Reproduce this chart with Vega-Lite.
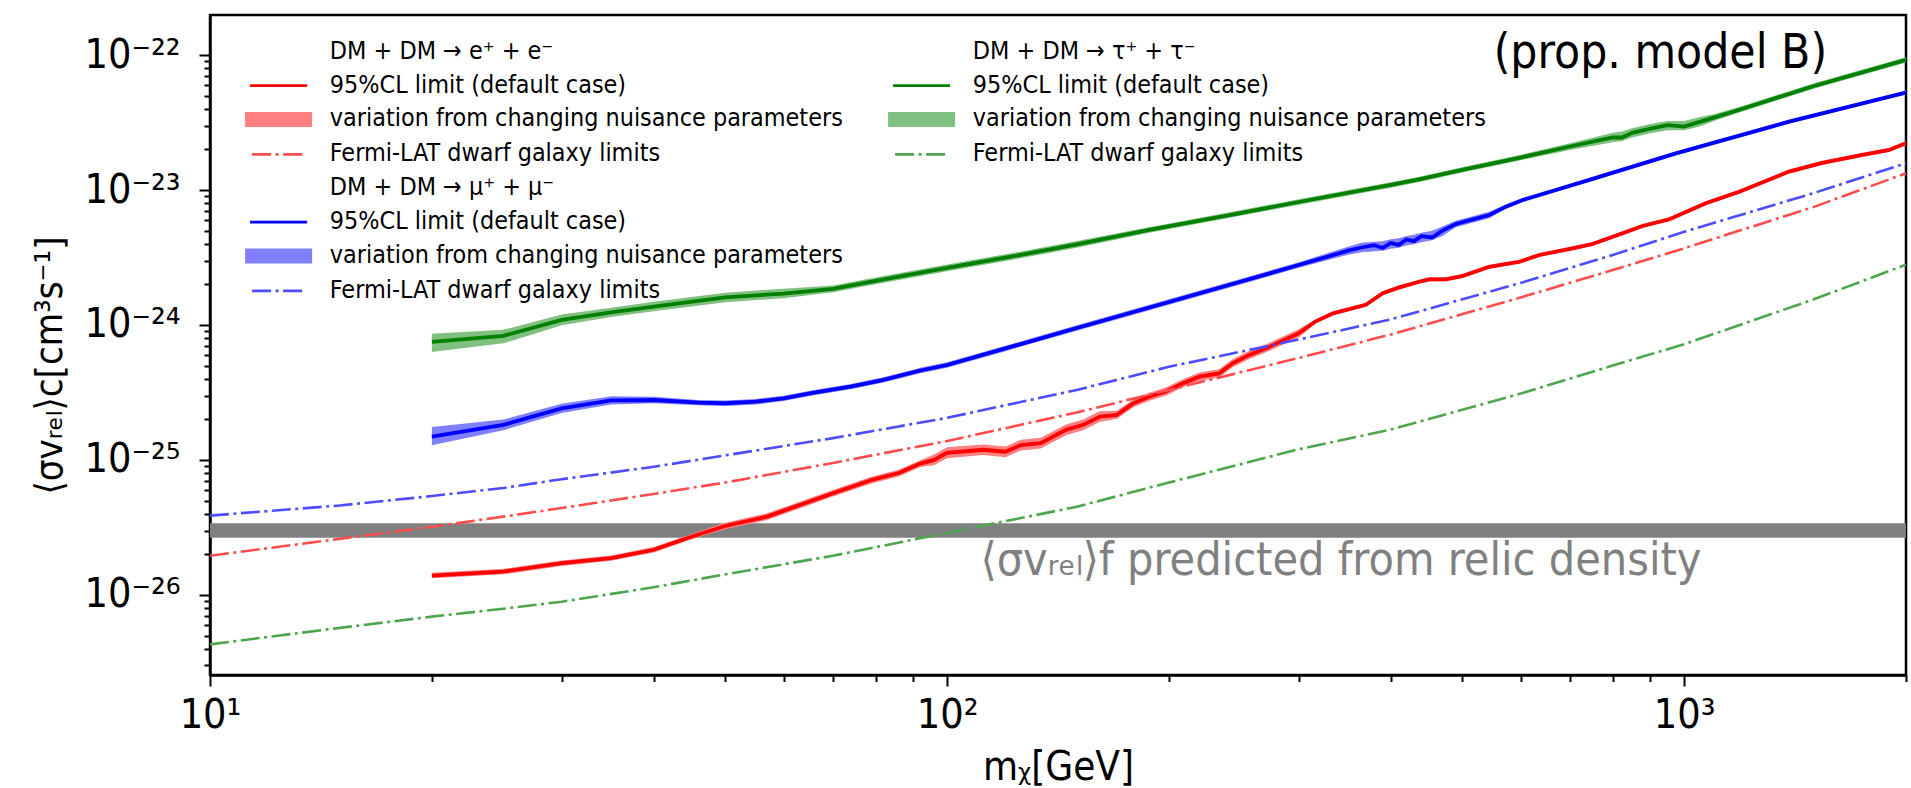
{
  "$schema": "https://vega.github.io/schema/vega-lite/v6.json",
  "width": 1696,
  "height": 660,
  "autosize": {"type": "none"},
  "padding": {"left": 210, "top": 15, "right": 5, "bottom": 113},
  "background": "white",
  "config": {
    "font": "DejaVu Sans Condensed",
    "view": {"stroke": "black", "strokeWidth": 2.5},
    "axis": {"grid": false, "domainColor": "black", "domainWidth": 2.5, "tickColor": "black", "tickWidth": 2, "labelColor": "black", "titleColor": "black", "labelFont": "DejaVu Sans Condensed", "titleFont": "DejaVu Sans Condensed", "titleFontWeight": "normal", "labelFlush": false, "labelOverlap": false, "labelBound": false}
  },
  "datasets": {
    "relic": [{"m": 10, "m2": 2000, "v": 3.4e-26, "v2": 2.65e-26}],
    "notes": [{"label": "⟨σvᵣₑₗ⟩f predicted from relic density", "m": 111, "v": 1.41e-26}],
    "tag": [{"label": "(prop. model B)", "m": 1563, "v": 8.0e-23}],
    "legend_keys": [{"key": "e_h"}, {"key": "e_l"}, {"key": "e_b"}, {"key": "e_f"}, {"key": "m_h"}, {"key": "m_l"}, {"key": "m_b"}, {"key": "m_f"}, {"key": "t_h"}, {"key": "t_l"}, {"key": "t_b"}, {"key": "t_f"}, {"key": "x1"}, {"key": "x2"}, {"key": "x3"}, {"key": "x4"}],
    "lines": [
      {"key": "e_l", "m": 20, "v": 1.39e-26}, {"key": "e_l", "m": 25, "v": 1.49e-26}, {"key": "e_l", "m": 30, "v": 1.72e-26}, {"key": "e_l", "m": 35, "v": 1.87e-26}, {"key": "e_l", "m": 40, "v": 2.16e-26}, {"key": "e_l", "m": 45, "v": 2.7e-26}, {"key": "e_l", "m": 50, "v": 3.24e-26}, {"key": "e_l", "m": 57, "v": 3.8e-26}, {"key": "e_l", "m": 70, "v": 5.67e-26}, {"key": "e_l", "m": 79, "v": 7.1e-26}, {"key": "e_l", "m": 86, "v": 8.0e-26}, {"key": "e_l", "m": 92, "v": 9.4e-26}, {"key": "e_l", "m": 96, "v": 1.0e-25}, {"key": "e_l", "m": 100, "v": 1.13e-25}, {"key": "e_l", "m": 112, "v": 1.19e-25}, {"key": "e_l", "m": 120, "v": 1.15e-25}, {"key": "e_l", "m": 126, "v": 1.29e-25}, {"key": "e_l", "m": 134, "v": 1.33e-25}, {"key": "e_l", "m": 138, "v": 1.45e-25}, {"key": "e_l", "m": 145, "v": 1.67e-25}, {"key": "e_l", "m": 153, "v": 1.82e-25}, {"key": "e_l", "m": 161, "v": 2.09e-25}, {"key": "e_l", "m": 170, "v": 2.16e-25}, {"key": "e_l", "m": 179, "v": 2.63e-25}, {"key": "e_l", "m": 188, "v": 2.94e-25}, {"key": "e_l", "m": 198, "v": 3.21e-25}, {"key": "e_l", "m": 209, "v": 3.7e-25}, {"key": "e_l", "m": 220, "v": 4.14e-25}, {"key": "e_l", "m": 234, "v": 4.38e-25}, {"key": "e_l", "m": 244, "v": 5.2e-25}, {"key": "e_l", "m": 257, "v": 6.0e-25}, {"key": "e_l", "m": 271, "v": 6.72e-25}, {"key": "e_l", "m": 300, "v": 8.67e-25}, {"key": "e_l", "m": 316, "v": 1.06e-24}, {"key": "e_l", "m": 334, "v": 1.22e-24}, {"key": "e_l", "m": 370, "v": 1.41e-24}, {"key": "e_l", "m": 390, "v": 1.72e-24}, {"key": "e_l", "m": 411, "v": 1.9e-24}, {"key": "e_l", "m": 437, "v": 2.09e-24}, {"key": "e_l", "m": 451, "v": 2.18e-24}, {"key": "e_l", "m": 475, "v": 2.18e-24}, {"key": "e_l", "m": 501, "v": 2.31e-24}, {"key": "e_l", "m": 544, "v": 2.7e-24}, {"key": "e_l", "m": 598, "v": 2.94e-24}, {"key": "e_l", "m": 636, "v": 3.3e-24}, {"key": "e_l", "m": 706, "v": 3.7e-24}, {"key": "e_l", "m": 751, "v": 3.98e-24}, {"key": "e_l", "m": 825, "v": 4.78e-24}, {"key": "e_l", "m": 878, "v": 5.41e-24}, {"key": "e_l", "m": 955, "v": 6.07e-24}, {"key": "e_l", "m": 1070, "v": 7.97e-24}, {"key": "e_l", "m": 1188, "v": 9.72e-24}, {"key": "e_l", "m": 1388, "v": 1.37e-23}, {"key": "e_l", "m": 1540, "v": 1.59e-23}, {"key": "e_l", "m": 1745, "v": 1.82e-23}, {"key": "e_l", "m": 1897, "v": 1.98e-23}, {"key": "e_l", "m": 2000, "v": 2.22e-23},
      {"key": "m_l", "m": 20, "v": 1.49e-25}, {"key": "m_l", "m": 25, "v": 1.82e-25}, {"key": "m_l", "m": 30, "v": 2.41e-25}, {"key": "m_l", "m": 35, "v": 2.76e-25}, {"key": "m_l", "m": 40, "v": 2.78e-25}, {"key": "m_l", "m": 46, "v": 2.66e-25}, {"key": "m_l", "m": 50, "v": 2.63e-25}, {"key": "m_l", "m": 55, "v": 2.7e-25}, {"key": "m_l", "m": 60, "v": 2.86e-25}, {"key": "m_l", "m": 66, "v": 3.15e-25}, {"key": "m_l", "m": 74, "v": 3.49e-25}, {"key": "m_l", "m": 82, "v": 3.92e-25}, {"key": "m_l", "m": 92, "v": 4.6e-25}, {"key": "m_l", "m": 100, "v": 5.05e-25}, {"key": "m_l", "m": 120, "v": 6.7e-25}, {"key": "m_l", "m": 150, "v": 9.5e-25}, {"key": "m_l", "m": 200, "v": 1.48e-24}, {"key": "m_l", "m": 250, "v": 2.09e-24}, {"key": "m_l", "m": 300, "v": 2.78e-24}, {"key": "m_l", "m": 350, "v": 3.55e-24}, {"key": "m_l", "m": 365, "v": 3.75e-24}, {"key": "m_l", "m": 380, "v": 3.9e-24}, {"key": "m_l", "m": 390, "v": 3.72e-24}, {"key": "m_l", "m": 400, "v": 4.05e-24}, {"key": "m_l", "m": 410, "v": 3.92e-24}, {"key": "m_l", "m": 420, "v": 4.3e-24}, {"key": "m_l", "m": 430, "v": 4.18e-24}, {"key": "m_l", "m": 440, "v": 4.55e-24}, {"key": "m_l", "m": 455, "v": 4.45e-24}, {"key": "m_l", "m": 470, "v": 5.0e-24}, {"key": "m_l", "m": 490, "v": 5.6e-24}, {"key": "m_l", "m": 544, "v": 6.53e-24}, {"key": "m_l", "m": 573, "v": 7.53e-24}, {"key": "m_l", "m": 604, "v": 8.43e-24}, {"key": "m_l", "m": 670, "v": 1.0e-23}, {"key": "m_l", "m": 744, "v": 1.19e-23}, {"key": "m_l", "m": 975, "v": 1.87e-23}, {"key": "m_l", "m": 1388, "v": 3.21e-23}, {"key": "m_l", "m": 2000, "v": 5.28e-23},
      {"key": "t_l", "m": 20, "v": 7.5e-25}, {"key": "t_l", "m": 25, "v": 8.3e-25}, {"key": "t_l", "m": 30, "v": 1.09e-24}, {"key": "t_l", "m": 35, "v": 1.24e-24}, {"key": "t_l", "m": 40, "v": 1.37e-24}, {"key": "t_l", "m": 50, "v": 1.6e-24}, {"key": "t_l", "m": 60, "v": 1.71e-24}, {"key": "t_l", "m": 70, "v": 1.85e-24}, {"key": "t_l", "m": 80, "v": 2.12e-24}, {"key": "t_l", "m": 86, "v": 2.28e-24}, {"key": "t_l", "m": 100, "v": 2.65e-24}, {"key": "t_l", "m": 120, "v": 3.15e-24}, {"key": "t_l", "m": 150, "v": 3.95e-24}, {"key": "t_l", "m": 188, "v": 5.06e-24}, {"key": "t_l", "m": 250, "v": 6.75e-24}, {"key": "t_l", "m": 300, "v": 8.15e-24}, {"key": "t_l", "m": 400, "v": 1.09e-23}, {"key": "t_l", "m": 437, "v": 1.2e-23}, {"key": "t_l", "m": 500, "v": 1.41e-23}, {"key": "t_l", "m": 600, "v": 1.74e-23}, {"key": "t_l", "m": 700, "v": 2.1e-23}, {"key": "t_l", "m": 800, "v": 2.45e-23}, {"key": "t_l", "m": 824, "v": 2.45e-23}, {"key": "t_l", "m": 850, "v": 2.65e-23}, {"key": "t_l", "m": 900, "v": 2.85e-23}, {"key": "t_l", "m": 950, "v": 3.02e-23}, {"key": "t_l", "m": 1000, "v": 2.95e-23}, {"key": "t_l", "m": 1050, "v": 3.2e-23}, {"key": "t_l", "m": 1100, "v": 3.45e-23}, {"key": "t_l", "m": 1200, "v": 4.0e-23}, {"key": "t_l", "m": 1500, "v": 5.9e-23}, {"key": "t_l", "m": 2000, "v": 9.2e-23}
    ],
    "bands": [
      {"key": "e_b", "m": 20, "v": 1.46e-26, "v2": 1.33e-26}, {"key": "e_b", "m": 25, "v": 1.56e-26, "v2": 1.42e-26}, {"key": "e_b", "m": 30, "v": 1.80e-26, "v2": 1.64e-26}, {"key": "e_b", "m": 35, "v": 1.96e-26, "v2": 1.79e-26}, {"key": "e_b", "m": 40, "v": 2.26e-26, "v2": 2.06e-26}, {"key": "e_b", "m": 45, "v": 2.83e-26, "v2": 2.58e-26}, {"key": "e_b", "m": 50, "v": 3.43e-26, "v2": 3.06e-26}, {"key": "e_b", "m": 57, "v": 4.02e-26, "v2": 3.59e-26}, {"key": "e_b", "m": 70, "v": 6.0e-26, "v2": 5.35e-26}, {"key": "e_b", "m": 79, "v": 7.52e-26, "v2": 6.7e-26}, {"key": "e_b", "m": 86, "v": 8.47e-26, "v2": 7.55e-26}, {"key": "e_b", "m": 92, "v": 9.95e-26, "v2": 8.88e-26}, {"key": "e_b", "m": 96, "v": 1.096e-25, "v2": 9.12e-26}, {"key": "e_b", "m": 100, "v": 1.24e-25, "v2": 1.03e-25}, {"key": "e_b", "m": 112, "v": 1.304e-25, "v2": 1.086e-25}, {"key": "e_b", "m": 120, "v": 1.26e-25, "v2": 1.049e-25}, {"key": "e_b", "m": 126, "v": 1.414e-25, "v2": 1.177e-25}, {"key": "e_b", "m": 134, "v": 1.458e-25, "v2": 1.213e-25}, {"key": "e_b", "m": 138, "v": 1.589e-25, "v2": 1.323e-25}, {"key": "e_b", "m": 145, "v": 1.83e-25, "v2": 1.524e-25}, {"key": "e_b", "m": 153, "v": 1.995e-25, "v2": 1.66e-25}, {"key": "e_b", "m": 161, "v": 2.29e-25, "v2": 1.907e-25}, {"key": "e_b", "m": 170, "v": 2.316e-25, "v2": 2.015e-25}, {"key": "e_b", "m": 179, "v": 2.82e-25, "v2": 2.453e-25}, {"key": "e_b", "m": 188, "v": 3.152e-25, "v2": 2.742e-25}, {"key": "e_b", "m": 198, "v": 3.441e-25, "v2": 2.994e-25}, {"key": "e_b", "m": 209, "v": 3.966e-25, "v2": 3.451e-25}, {"key": "e_b", "m": 220, "v": 4.438e-25, "v2": 3.862e-25}, {"key": "e_b", "m": 234, "v": 4.695e-25, "v2": 4.086e-25}, {"key": "e_b", "m": 244, "v": 5.574e-25, "v2": 4.851e-25}, {"key": "e_b", "m": 257, "v": 6.432e-25, "v2": 5.597e-25}, {"key": "e_b", "m": 271, "v": 7.204e-25, "v2": 6.269e-25}, {"key": "e_b", "m": 300, "v": 9.294e-25, "v2": 8.088e-25}, {"key": "e_b", "m": 316, "v": 1.097e-24, "v2": 1.024e-24}, {"key": "e_b", "m": 334, "v": 1.263e-24, "v2": 1.179e-24}, {"key": "e_b", "m": 370, "v": 1.459e-24, "v2": 1.362e-24}, {"key": "e_b", "m": 390, "v": 1.78e-24, "v2": 1.662e-24}, {"key": "e_b", "m": 411, "v": 1.967e-24, "v2": 1.836e-24}, {"key": "e_b", "m": 437, "v": 2.163e-24, "v2": 2.019e-24}, {"key": "e_b", "m": 451, "v": 2.256e-24, "v2": 2.106e-24}, {"key": "e_b", "m": 475, "v": 2.256e-24, "v2": 2.106e-24}, {"key": "e_b", "m": 501, "v": 2.391e-24, "v2": 2.232e-24}, {"key": "e_b", "m": 544, "v": 2.795e-24, "v2": 2.609e-24}, {"key": "e_b", "m": 598, "v": 3.043e-24, "v2": 2.841e-24}, {"key": "e_b", "m": 636, "v": 3.416e-24, "v2": 3.188e-24}, {"key": "e_b", "m": 706, "v": 3.83e-24, "v2": 3.575e-24}, {"key": "e_b", "m": 751, "v": 4.119e-24, "v2": 3.845e-24}, {"key": "e_b", "m": 825, "v": 4.947e-24, "v2": 4.618e-24}, {"key": "e_b", "m": 878, "v": 5.599e-24, "v2": 5.227e-24}, {"key": "e_b", "m": 955, "v": 6.282e-24, "v2": 5.865e-24}, {"key": "e_b", "m": 1070, "v": 8.249e-24, "v2": 7.7e-24}, {"key": "e_b", "m": 1188, "v": 1.006e-23, "v2": 9.391e-24}, {"key": "e_b", "m": 1388, "v": 1.418e-23, "v2": 1.324e-23}, {"key": "e_b", "m": 1540, "v": 1.646e-23, "v2": 1.536e-23}, {"key": "e_b", "m": 1745, "v": 1.884e-23, "v2": 1.758e-23}, {"key": "e_b", "m": 1897, "v": 2.049e-23, "v2": 1.913e-23}, {"key": "e_b", "m": 2000, "v": 2.298e-23, "v2": 2.145e-23},
      {"key": "m_b", "m": 20, "v": 1.751e-25, "v2": 1.283e-25}, {"key": "m_b", "m": 25, "v": 1.995e-25, "v2": 1.661e-25}, {"key": "m_b", "m": 30, "v": 2.612e-25, "v2": 2.223e-25}, {"key": "m_b", "m": 35, "v": 2.959e-25, "v2": 2.575e-25}, {"key": "m_b", "m": 40, "v": 2.944e-25, "v2": 2.625e-25}, {"key": "m_b", "m": 46, "v": 2.785e-25, "v2": 2.541e-25}, {"key": "m_b", "m": 50, "v": 2.754e-25, "v2": 2.512e-25}, {"key": "m_b", "m": 55, "v": 2.827e-25, "v2": 2.579e-25}, {"key": "m_b", "m": 60, "v": 2.994e-25, "v2": 2.732e-25}, {"key": "m_b", "m": 66, "v": 3.298e-25, "v2": 3.009e-25}, {"key": "m_b", "m": 74, "v": 3.654e-25, "v2": 3.333e-25}, {"key": "m_b", "m": 82, "v": 4.104e-25, "v2": 3.744e-25}, {"key": "m_b", "m": 92, "v": 4.816e-25, "v2": 4.394e-25}, {"key": "m_b", "m": 100, "v": 5.287e-25, "v2": 4.823e-25}, {"key": "m_b", "m": 120, "v": 7.015e-25, "v2": 6.399e-25}, {"key": "m_b", "m": 150, "v": 9.946e-25, "v2": 9.074e-25}, {"key": "m_b", "m": 200, "v": 1.55e-24, "v2": 1.414e-24}, {"key": "m_b", "m": 250, "v": 2.188e-24, "v2": 1.996e-24}, {"key": "m_b", "m": 300, "v": 2.911e-24, "v2": 2.655e-24}, {"key": "m_b", "m": 350, "v": 3.806e-24, "v2": 3.312e-24}, {"key": "m_b", "m": 365, "v": 4.065e-24, "v2": 3.459e-24}, {"key": "m_b", "m": 380, "v": 4.141e-24, "v2": 3.524e-24}, {"key": "m_b", "m": 390, "v": 4.173e-24, "v2": 3.552e-24}, {"key": "m_b", "m": 400, "v": 4.314e-24, "v2": 3.672e-24}, {"key": "m_b", "m": 410, "v": 4.39e-24, "v2": 3.736e-24}, {"key": "m_b", "m": 420, "v": 4.553e-24, "v2": 3.875e-24}, {"key": "m_b", "m": 430, "v": 4.661e-24, "v2": 3.967e-24}, {"key": "m_b", "m": 440, "v": 4.824e-24, "v2": 4.105e-24}, {"key": "m_b", "m": 455, "v": 4.986e-24, "v2": 4.244e-24}, {"key": "m_b", "m": 470, "v": 5.366e-24, "v2": 4.566e-24}, {"key": "m_b", "m": 490, "v": 5.93e-24, "v2": 5.288e-24}, {"key": "m_b", "m": 544, "v": 6.915e-24, "v2": 6.166e-24}, {"key": "m_b", "m": 573, "v": 7.794e-24, "v2": 7.275e-24}, {"key": "m_b", "m": 604, "v": 8.725e-24, "v2": 8.145e-24}, {"key": "m_b", "m": 670, "v": 1.035e-23, "v2": 9.66e-24}, {"key": "m_b", "m": 744, "v": 1.232e-23, "v2": 1.15e-23}, {"key": "m_b", "m": 975, "v": 1.935e-23, "v2": 1.807e-23}, {"key": "m_b", "m": 1388, "v": 3.322e-23, "v2": 3.101e-23}, {"key": "m_b", "m": 2000, "v": 5.45e-23, "v2": 5.1e-23},
      {"key": "t_b", "m": 20, "v": 8.61e-25, "v2": 6.31e-25}, {"key": "t_b", "m": 25, "v": 9.2e-25, "v2": 7.31e-25}, {"key": "t_b", "m": 30, "v": 1.195e-24, "v2": 9.95e-25}, {"key": "t_b", "m": 35, "v": 1.344e-24, "v2": 1.144e-24}, {"key": "t_b", "m": 40, "v": 1.485e-24, "v2": 1.264e-24}, {"key": "t_b", "m": 50, "v": 1.734e-24, "v2": 1.476e-24}, {"key": "t_b", "m": 60, "v": 1.854e-24, "v2": 1.578e-24}, {"key": "t_b", "m": 70, "v": 1.959e-24, "v2": 1.747e-24}, {"key": "t_b", "m": 80, "v": 2.245e-24, "v2": 2.002e-24}, {"key": "t_b", "m": 86, "v": 2.415e-24, "v2": 2.153e-24}, {"key": "t_b", "m": 100, "v": 2.806e-24, "v2": 2.502e-24}, {"key": "t_b", "m": 120, "v": 3.336e-24, "v2": 2.975e-24}, {"key": "t_b", "m": 150, "v": 4.183e-24, "v2": 3.73e-24}, {"key": "t_b", "m": 188, "v": 5.298e-24, "v2": 4.833e-24}, {"key": "t_b", "m": 250, "v": 7.067e-24, "v2": 6.447e-24}, {"key": "t_b", "m": 300, "v": 8.533e-24, "v2": 7.784e-24}, {"key": "t_b", "m": 400, "v": 1.141e-23, "v2": 1.041e-23}, {"key": "t_b", "m": 437, "v": 1.256e-23, "v2": 1.146e-23}, {"key": "t_b", "m": 500, "v": 1.476e-23, "v2": 1.347e-23}, {"key": "t_b", "m": 600, "v": 1.822e-23, "v2": 1.662e-23}, {"key": "t_b", "m": 700, "v": 2.224e-23, "v2": 1.983e-23}, {"key": "t_b", "m": 800, "v": 2.656e-23, "v2": 2.26e-23}, {"key": "t_b", "m": 824, "v": 2.71e-23, "v2": 2.306e-23}, {"key": "t_b", "m": 850, "v": 2.873e-23, "v2": 2.445e-23}, {"key": "t_b", "m": 900, "v": 3.089e-23, "v2": 2.629e-23}, {"key": "t_b", "m": 950, "v": 3.252e-23, "v2": 2.768e-23}, {"key": "t_b", "m": 1000, "v": 3.252e-23, "v2": 2.768e-23}, {"key": "t_b", "m": 1050, "v": 3.469e-23, "v2": 2.952e-23}, {"key": "t_b", "m": 1100, "v": 3.654e-23, "v2": 3.258e-23}, {"key": "t_b", "m": 1200, "v": 4.188e-23, "v2": 3.821e-23}, {"key": "t_b", "m": 1500, "v": 6.177e-23, "v2": 5.636e-23}, {"key": "t_b", "m": 2000, "v": 9.632e-23, "v2": 8.787e-23}
    ],
    "fermi": [
      {"key": "e_f", "m": 10, "v": 1.95e-26}, {"key": "e_f", "m": 15, "v": 2.6e-26}, {"key": "e_f", "m": 20, "v": 3.2e-26}, {"key": "e_f", "m": 25, "v": 3.8e-26}, {"key": "e_f", "m": 30, "v": 4.4e-26}, {"key": "e_f", "m": 40, "v": 5.6e-26}, {"key": "e_f", "m": 50, "v": 6.8e-26}, {"key": "e_f", "m": 70, "v": 9.5e-26}, {"key": "e_f", "m": 100, "v": 1.38e-25}, {"key": "e_f", "m": 150, "v": 2.25e-25}, {"key": "e_f", "m": 200, "v": 3.3e-25}, {"key": "e_f", "m": 300, "v": 5.7e-25}, {"key": "e_f", "m": 400, "v": 8.5e-25}, {"key": "e_f", "m": 600, "v": 1.6e-24}, {"key": "e_f", "m": 800, "v": 2.55e-24}, {"key": "e_f", "m": 1000, "v": 3.7e-24}, {"key": "e_f", "m": 1500, "v": 7.5e-24}, {"key": "e_f", "m": 2000, "v": 1.33e-23},
      {"key": "m_f", "m": 10, "v": 3.87e-26}, {"key": "m_f", "m": 15, "v": 4.6e-26}, {"key": "m_f", "m": 20, "v": 5.4e-26}, {"key": "m_f", "m": 25, "v": 6.2e-26}, {"key": "m_f", "m": 30, "v": 7.2e-26}, {"key": "m_f", "m": 40, "v": 8.9e-26}, {"key": "m_f", "m": 50, "v": 1.08e-25}, {"key": "m_f", "m": 70, "v": 1.45e-25}, {"key": "m_f", "m": 100, "v": 2.05e-25}, {"key": "m_f", "m": 150, "v": 3.3e-25}, {"key": "m_f", "m": 200, "v": 4.9e-25}, {"key": "m_f", "m": 300, "v": 7.8e-25}, {"key": "m_f", "m": 400, "v": 1.1e-24}, {"key": "m_f", "m": 600, "v": 2.05e-24}, {"key": "m_f", "m": 800, "v": 3.3e-24}, {"key": "m_f", "m": 1000, "v": 4.9e-24}, {"key": "m_f", "m": 1500, "v": 9.5e-24}, {"key": "m_f", "m": 2000, "v": 1.58e-23},
      {"key": "t_f", "m": 10, "v": 4.3e-27}, {"key": "t_f", "m": 15, "v": 5.7e-27}, {"key": "t_f", "m": 20, "v": 6.9e-27}, {"key": "t_f", "m": 25, "v": 7.9e-27}, {"key": "t_f", "m": 30, "v": 8.9e-27}, {"key": "t_f", "m": 40, "v": 1.14e-26}, {"key": "t_f", "m": 50, "v": 1.42e-26}, {"key": "t_f", "m": 70, "v": 1.95e-26}, {"key": "t_f", "m": 100, "v": 2.88e-26}, {"key": "t_f", "m": 150, "v": 4.5e-26}, {"key": "t_f", "m": 200, "v": 6.8e-26}, {"key": "t_f", "m": 300, "v": 1.2e-25}, {"key": "t_f", "m": 400, "v": 1.68e-25}, {"key": "t_f", "m": 600, "v": 3.1e-25}, {"key": "t_f", "m": 800, "v": 5.0e-25}, {"key": "t_f", "m": 1000, "v": 7.2e-25}, {"key": "t_f", "m": 1500, "v": 1.55e-24}, {"key": "t_f", "m": 2000, "v": 2.8e-24}
    ]
  },
  "encoding": {
    "x": {
      "field": "m", "type": "quantitative",
      "scale": {"type": "log", "domain": [10, 2000], "nice": false},
      "axis": {
        "values": [10, 20, 30, 40, 50, 60, 70, 80, 90, 100, 200, 300, 400, 500, 600, 700, 800, 900, 1000, 2000],
        "labelExpr": "datum.value == 10 ? '10¹' : datum.value == 100 ? '10²' : datum.value == 1000 ? '10³' : ''",
        "tickSize": {"condition": {"test": "datum.value == 10 || datum.value == 100 || datum.value == 1000", "value": 11}, "value": 6.5},
        "labelFontSize": 41, "labelPadding": 9,
        "title": "mᵪ[GeV]", "titleFontSize": 40, "titlePadding": 12
      }
    },
    "y": {
      "field": "v", "type": "quantitative",
      "scale": {"type": "log", "domain": [2.55e-27, 1.98e-22], "nice": false},
      "axis": {
        "values": [3e-27, 4e-27, 5e-27, 6e-27, 7e-27, 8e-27, 9e-27, 1e-26, 2e-26, 3e-26, 4e-26, 5e-26, 6e-26, 7e-26, 8e-26, 9e-26, 1e-25, 2e-25, 3e-25, 4e-25, 5e-25, 6e-25, 7e-25, 8e-25, 9e-25, 1e-24, 2e-24, 3e-24, 4e-24, 5e-24, 6e-24, 7e-24, 8e-24, 9e-24, 1e-23, 2e-23, 3e-23, 4e-23, 5e-23, 6e-23, 7e-23, 8e-23, 9e-23, 1e-22],
        "labelExpr": "datum.value == 1e-22 ? '10⁻²²' : datum.value == 1e-23 ? '10⁻²³' : datum.value == 1e-24 ? '10⁻²⁴' : datum.value == 1e-25 ? '10⁻²⁵' : datum.value == 1e-26 ? '10⁻²⁶' : ''",
        "tickSize": {"condition": {"test": "datum.value == 1e-22 || datum.value == 1e-23 || datum.value == 1e-24 || datum.value == 1e-25 || datum.value == 1e-26", "value": 11}, "value": 6},
        "labelFontSize": 41, "labelPadding": 19,
        "title": "⟨σvᵣₑₗ⟩c[cm³s⁻¹]", "titleFontSize": 38, "titlePadding": 15, "titleY": 350
      }
    }
  },
  "layer": [
    {
      "data": {"name": "relic"},
      "mark": {"type": "rect", "color": "#808080"},
      "encoding": {"x2": {"field": "m2"}, "y2": {"field": "v2"}}
    },
    {
      "data": {"name": "bands"},
      "mark": {"type": "area", "opacity": 1, "clip": true},
      "encoding": {
        "y2": {"field": "v2"},
        "color": {
          "field": "key", "type": "nominal", "legend": null,
          "scale": {
            "domain": ["e_l", "e_b", "e_f", "m_l", "m_b", "m_f", "t_l", "t_b", "t_f"],
            "range": ["#ff0000", "#ff8080", "#ff4d4d", "#0000ff", "#8080ff", "#4d4dff", "#008000", "#80c080", "#4da64d"]
          }
        }
      }
    },
    {
      "data": {"name": "lines"},
      "mark": {"type": "line", "strokeWidth": 3.8, "clip": true},
      "encoding": {"color": {"field": "key", "type": "nominal", "legend": null}}
    },
    {
      "data": {"name": "fermi"},
      "mark": {"type": "line", "strokeWidth": 2.6, "strokeDash": [19, 4.5, 3, 4.5], "clip": true},
      "encoding": {"color": {"field": "key", "type": "nominal", "legend": null}}
    },
    {
      "data": {"name": "legend_keys"},
      "mark": {"type": "point", "opacity": 0},
      "encoding": {
        "shape": {
          "field": "key", "type": "nominal",
          "scale": {
            "domain": ["e_h", "e_l", "e_b", "e_f", "m_h", "m_l", "m_b", "m_f", "t_h", "t_l", "t_b", "t_f", "x1", "x2", "x3", "x4"],
            "range": ["M0,0", "M-5.7,0H5.7", "M-6.7,-1.5H6.7V1.5H-6.7Z", "M-5.3,0H4.7", "M0,0", "M-5.7,0H5.7", "M-6.7,-1.5H6.7V1.5H-6.7Z", "M-5.3,0H4.7", "M0,0", "M-5.7,0H5.7", "M-6.7,-1.5H6.7V1.5H-6.7Z", "M-5.3,0H4.7", "M0,0", "M0,0", "M0,0", "M0,0"]
          },
          "legend": {
            "orient": "none", "legendX": 38, "legendY": 24.2, "columns": 2, "columnPadding": 39, "rowPadding": 7.9,
            "title": null, "padding": 0, "symbolSize": 100, "symbolStrokeWidth": 2.7, "symbolOffset": 18.15, "labelOffset": 38.8, "symbolOpacity": 1,
            "labelFontSize": 24.9, "labelFont": "DejaVu Sans Condensed", "labelColor": "black", "labelLimit": 1000,
            "labelExpr": "datum.value == 'e_h' ? 'DM + DM → e⁺ + e⁻' : datum.value == 'm_h' ? 'DM + DM → μ⁺ + μ⁻' : datum.value == 't_h' ? 'DM + DM → τ⁺ + τ⁻' : indexof(datum.value, '_l') > 0 ? '95%CL limit (default case)' : indexof(datum.value, '_b') > 0 ? 'variation from changing nuisance parameters' : indexof(datum.value, '_f') > 0 ? 'Fermi-LAT dwarf galaxy limits' : ''"
          }
        },
        "fill": {
          "field": "key", "type": "nominal",
          "scale": {
            "domain": ["e_h", "e_l", "e_b", "e_f", "m_h", "m_l", "m_b", "m_f", "t_h", "t_l", "t_b", "t_f", "x1", "x2", "x3", "x4"],
            "range": ["transparent", "transparent", "#ff8080", "transparent", "transparent", "transparent", "#8080ff", "transparent", "transparent", "transparent", "#80c080", "transparent", "transparent", "transparent", "transparent", "transparent"]
          }
        },
        "stroke": {
          "field": "key", "type": "nominal",
          "scale": {
            "domain": ["e_h", "e_l", "e_b", "e_f", "m_h", "m_l", "m_b", "m_f", "t_h", "t_l", "t_b", "t_f", "x1", "x2", "x3", "x4"],
            "range": ["transparent", "#ff0000", "transparent", "#ff4d4d", "transparent", "#0000ff", "transparent", "#4d4dff", "transparent", "#008000", "transparent", "#4da64d", "transparent", "transparent", "transparent", "transparent"]
          }
        },
        "strokeDash": {
          "field": "key", "type": "nominal",
          "scale": {
            "domain": ["e_h", "e_l", "e_b", "e_f", "m_h", "m_l", "m_b", "m_f", "t_h", "t_l", "t_b", "t_f", "x1", "x2", "x3", "x4"],
            "range": [[1, 0], [1, 0], [1, 0], [19, 4.5, 3, 4.5], [1, 0], [1, 0], [1, 0], [19, 4.5, 3, 4.5], [1, 0], [1, 0], [1, 0], [19, 4.5, 3, 4.5], [1, 0], [1, 0], [1, 0], [1, 0]]
          }
        }
      }
    },
    {
      "data": {"name": "notes"},
      "mark": {"type": "text", "align": "left", "baseline": "alphabetic", "fontSize": 46.3, "color": "#808080", "font": "DejaVu Sans Condensed"},
      "encoding": {"text": {"field": "label"}}
    },
    {
      "data": {"name": "tag"},
      "mark": {"type": "text", "align": "right", "baseline": "alphabetic", "fontSize": 47.5, "color": "black", "font": "DejaVu Sans Condensed"},
      "encoding": {"text": {"field": "label"}}
    }
  ]
}
